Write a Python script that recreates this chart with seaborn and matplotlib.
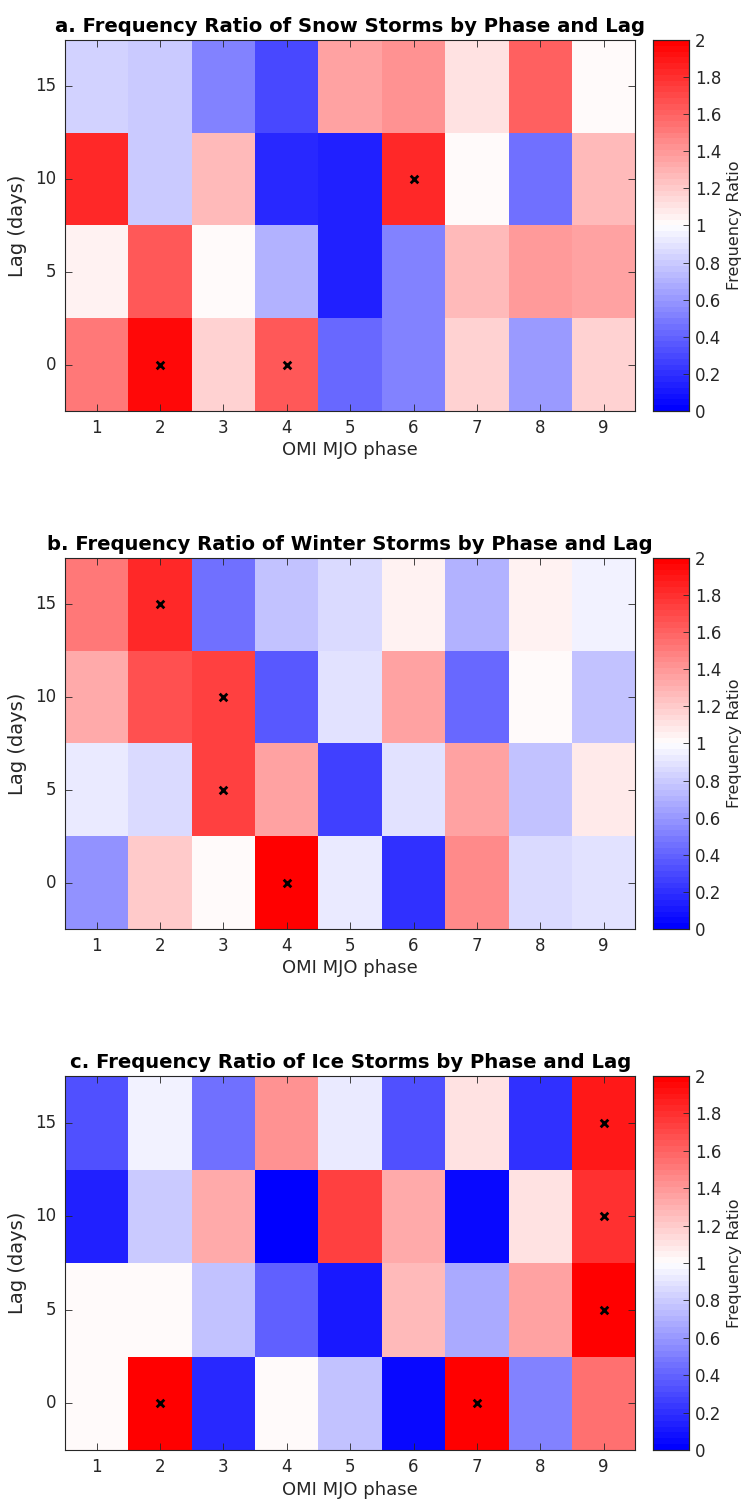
import numpy as np
import pandas as pd
import matplotlib
matplotlib.use("Agg")
import matplotlib.pyplot as plt
from matplotlib.colors import ListedColormap
import seaborn as sns

phases = [1, 2, 3, 4, 5, 6, 7, 8, 9]
lags = [15, 10, 5, 0]  # top to bottom

titles = [
    "a. Frequency Ratio of Snow Storms by Phase and Lag",
    "b. Frequency Ratio of Winter Storms by Phase and Lag",
    "c. Frequency Ratio of Ice Storms by Phase and Lag",
]

# rows: lag 15, 10, 5, 0 ; columns: phase 1..9
snow = [
    [0.83, 0.80, 0.50, 0.30, 1.35, 1.42, 1.12, 1.60, 1.00],
    [1.83, 0.80, 1.27, 0.18, 0.15, 1.83, 1.03, 0.45, 1.25],
    [1.04, 1.65, 1.03, 0.70, 0.14, 0.50, 1.25, 1.38, 1.37],
    [1.50, 1.95, 1.17, 1.65, 0.43, 0.52, 1.18, 0.60, 1.18],
]
winter = [
    [1.52, 1.83, 0.45, 0.78, 0.85, 1.04, 0.70, 1.04, 0.95],
    [1.33, 1.68, 1.72, 0.37, 0.90, 1.37, 0.42, 1.03, 0.77],
    [0.92, 0.85, 1.72, 1.35, 0.25, 0.90, 1.35, 0.77, 1.08],
    [0.57, 1.20, 1.00, 1.98, 0.93, 0.20, 1.45, 0.85, 0.90],
]
ice = [
    [0.33, 0.95, 0.45, 1.42, 0.92, 0.33, 1.10, 0.20, 1.88],
    [0.13, 0.80, 1.33, 0.02, 1.73, 1.33, 0.05, 1.10, 1.80],
    [1.03, 1.03, 0.78, 0.38, 0.12, 1.25, 0.67, 1.35, 1.97],
    [1.03, 1.97, 0.18, 1.00, 0.77, 0.05, 1.97, 0.53, 1.55],
]

# significant cells: (phase, lag)
sig_snow = [(2, 0), (4, 0), (6, 10)]
sig_winter = [(2, 15), (3, 10), (3, 5), (4, 0)]
sig_ice = [(9, 15), (9, 10), (9, 5), (2, 0), (7, 0)]

cbar_ticks = [0, 0.2, 0.4, 0.6, 0.8, 1, 1.2, 1.4, 1.6, 1.8, 2]
cbar_labels = ["0", "0.2", "0.4", "0.6", "0.8", "1", "1.2", "1.4", "1.6", "1.8", "2"]

sns.set_style("white")
plt.rcParams["font.family"] = ["DejaVu Sans"]

cmap = ListedColormap(plt.get_cmap("bwr")(np.linspace(0, 1, 64)))
textc = "#262626"

fig = plt.figure(figsize=(7.52, 15.02), dpi=100)
bottoms = [0.7264, 0.3815, 0.0346]
heights = [0.247, 0.247, 0.249]

for data, sig, title, b, h in zip([snow, winter, ice], [sig_snow, sig_winter, sig_ice],
                                  titles, bottoms, heights):
    ax = fig.add_axes([0.0864, b, 0.7585, h])
    cax = fig.add_axes([0.8684, b, 0.048, h])
    df = pd.DataFrame(data, index=lags, columns=phases)
    sns.heatmap(df, ax=ax, cbar_ax=cax, cmap=cmap, vmin=0, vmax=2,
                cbar_kws={"ticks": cbar_ticks})
    # significance markers
    xs = [phases.index(p) + 0.5 for p, l in sig]
    ys = [lags.index(l) + 0.5 for p, l in sig]
    ax.scatter(xs, ys, marker="x", s=30, c="black", linewidths=2, zorder=5)

    ax.set_axisbelow(False)
    for sp in ax.spines.values():
        sp.set_visible(True)
        sp.set_color(textc)
        sp.set_linewidth(0.8)
    ax.tick_params(axis="both", which="both", direction="in", length=5,
                   top=True, right=True, bottom=True, left=True,
                   colors=textc, labelsize=12, width=0.6, pad=6)
    ax.set_xticklabels([str(p) for p in phases], rotation=0, color=textc)
    ax.set_yticklabels([str(l) for l in lags], rotation=0, color=textc)
    ax.set_xlabel("OMI MJO phase", fontsize=13, color=textc, labelpad=3)
    ax.set_ylabel("Lag (days)", fontsize=14, color=textc, labelpad=6)
    ax.set_title(title, fontsize=14.1, fontweight="bold", color="black", pad=6)

    cax.set_axisbelow(False)
    cax.set_yticks(cbar_ticks)
    cax.set_yticklabels(cbar_labels)
    cax.tick_params(direction="in", length=4, colors=textc, labelsize=12, width=0.6, pad=4)
    for sp in cax.spines.values():
        sp.set_visible(True)
        sp.set_color(textc)
        sp.set_linewidth(0.8)
    cax.set_ylabel("Frequency Ratio", fontsize=11.5, color=textc, labelpad=4)

fig.savefig("out.png", dpi=100)
